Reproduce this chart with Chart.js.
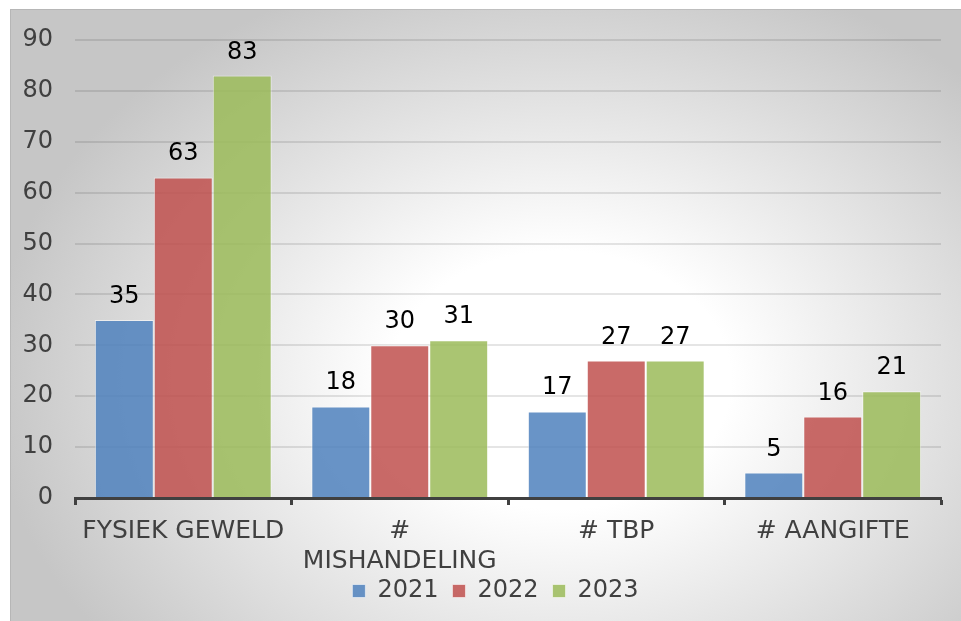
<!DOCTYPE html>
<html>
<head>
<meta charset="utf-8">
<script src="https://cdn.jsdelivr.net/npm/chart.js@4/dist/chart.umd.min.js"></script>
<style>
  html, body { margin: 0; padding: 0; background: #ffffff; }
  #c { display: block; }
</style>
</head>
<body>
<canvas id="c" width="961" height="621"></canvas>
<script>
const categories = [['FYSIEK GEWELD'], ['#', 'MISHANDELING'], ['# TBP'], ['# AANGIFTE']];
const seriesNames = ['2021', '2022', '2023'];
const values2021 = [35, 18, 17, 5];
const values2022 = [63, 30, 27, 16];
const values2023 = [83, 31, 27, 21];
const yTicks = [0, 10, 20, 30, 40, 50, 60, 70, 80, 90];

const FONT = 'DejaVu Sans';
const colors = ['rgba(79,129,189,0.85)', 'rgba(192,80,77,0.85)', 'rgba(155,187,89,0.85)'];

const bgPlugin = {
  id: 'bg',
  beforeDraw(chart) {
    const ctx = chart.ctx;
    ctx.save();
    ctx.fillStyle = '#ffffff';
    ctx.fillRect(0, 0, chart.width, chart.height);
    const x0 = 10, y0 = 9, x1 = 961, y1 = 621;
    const cx = 560, cy = 380, rx = 570, ry = 430;
    ctx.beginPath();
    ctx.rect(x0, y0, x1 - x0, y1 - y0);
    ctx.clip();
    ctx.translate(cx, cy);
    ctx.scale(1, ry / rx);
    const g = ctx.createRadialGradient(0, 0, 0, 0, 0, rx);
    g.addColorStop(0, '#ffffff');
    g.addColorStop(0.3, '#ffffff');
    g.addColorStop(1, '#c6c6c6');
    ctx.fillStyle = g;
    ctx.fillRect(-2000, -2000, 4000, 4000);
    ctx.restore();
    ctx.save();
    ctx.strokeStyle = 'rgba(0,0,0,0.08)';
    ctx.lineWidth = 1;
    ctx.strokeRect(x0 + 0.5, y0 + 0.5, x1 - x0, y1 - y0);
    ctx.restore();
  }
};

// place the legend row where the reference has it (below the two-line category label)
const legendPlace = {
  id: 'legendPlace',
  afterLayout(chart) {
    const l = chart.legend;
    if (!l) return;
    const dy = -8, dx = 25;
    l.top += dy; l.bottom += dy;
    l.left += dx; l.right += dx;
  }
};

const labelPlugin = {
  id: 'vals',
  afterDraw(chart) {
    const ctx = chart.ctx;
    ctx.save();
    ctx.font = '24px "' + FONT + '"';
    ctx.fillStyle = '#000000';
    ctx.textAlign = 'center';
    ctx.textBaseline = 'alphabetic';
    chart.data.datasets.forEach((ds, di) => {
      const meta = chart.getDatasetMeta(di);
      meta.data.forEach((bar, i) => {
        ctx.fillText(String(ds.data[i]), bar.x, bar.y - 17);
      });
    });
    ctx.restore();
  }
};

const seriesValues = [values2021, values2022, values2023];

new Chart(document.getElementById('c'), {
  type: 'bar',
  data: {
    labels: categories,
    datasets: seriesNames.map((n, k) => ({
      label: n,
      data: seriesValues[k],
      backgroundColor: colors[k],
      borderColor: 'rgba(255,255,255,0.55)',
      borderWidth: 1,
      categoryPercentage: 0.817,
      barPercentage: 1.0
    }))
  },
  options: {
    responsive: false,
    animation: false,
    devicePixelRatio: 1,
    layout: { padding: { left: 0, right: 20, top: 40, bottom: 0 } },
    plugins: {
      legend: {
        position: 'bottom',
        labels: {
          font: { family: FONT, size: 24 },
          color: '#404040',
          boxWidth: 13,
          boxHeight: 13,
          padding: 14
        }
      },
      tooltip: { enabled: false }
    },
    scales: {
      x: {
        afterFit(s) { s.height = 75; },
        grid: {
          display: true,
          drawOnChartArea: false,
          drawTicks: true,
          tickLength: 7,
          tickWidth: 3,
          tickColor: '#404040',
          offset: true
        },
        border: { display: true, color: '#404040', width: 3 },
        ticks: {
          font: { family: FONT, size: 25, lineHeight: 1.2 },
          color: '#404040',
          padding: 11,
          maxRotation: 0,
          autoSkip: false
        }
      },
      y: {
        z: 1,
        min: 0,
        max: 90,
        afterFit(s) { s.width = 75; },
        afterBuildTicks(s) { s.ticks = yTicks.map(v => ({ value: v })); },
        grid: {
          color: 'rgba(0,0,0,0.1)',
          lineWidth: 2,
          drawTicks: false
        },
        border: { display: false },
        ticks: {
          font: { family: FONT, size: 24 },
          color: '#404040',
          padding: 22
        }
      }
    }
  },
  plugins: [bgPlugin, legendPlace, labelPlugin]
});
</script>
</body>
</html>
